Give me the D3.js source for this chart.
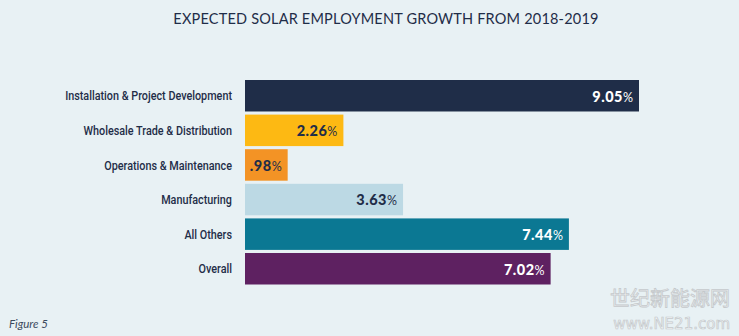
<!DOCTYPE html>
<html><head><meta charset="utf-8">
<script src="https://cdn.jsdelivr.net/npm/d3@7/dist/d3.min.js"></script>
<style>
html,body{margin:0;padding:0;background:#e8f1f4;}
svg{display:block;}
</style></head>
<body>
<script>
const categories = ["Installation & Project Development","Wholesale Trade & Distribution","Operations & Maintenance","Manufacturing","All Others","Overall"];
const values = [9.05, 2.26, 0.98, 3.63, 7.44, 7.02];
const valueLabels = ["9.05","2.26",".98","3.63","7.44","7.02"];
const barColors = ["#1f2d48","#fdb913","#f39325","#bcd9e4","#0b7893","#5e2161"];
const labelColors = ["#ffffff","#1f2d48","#1f2d48","#1f2d48","#ffffff","#ffffff"];

const W = 739, H = 336;
const svg = d3.select("body").append("svg").attr("width", W).attr("height", H);
svg.append("rect").attr("width", W).attr("height", H).attr("fill", "#e8f1f4");

svg.append("text").attr("x", 386).attr("y", 24).attr("text-anchor", "middle")
  .attr("font-family", "Lato, 'Open Sans', sans-serif").attr("font-size", 14.5)
  .attr("fill", "#1f2d48").attr("letter-spacing", 0.2)
  .text("EXPECTED SOLAR EMPLOYMENT GROWTH FROM 2018-2019");

const x = d3.scaleLinear().domain([0, 9.05]).range([245, 639]);
const y = d3.scaleBand().domain(categories).range([80, 284.5]).paddingInner(0.09).paddingOuter(0);

const data = categories.map((c, i) => ({c, v: values[i], l: valueLabels[i], col: barColors[i], lc: labelColors[i]}));

svg.selectAll("rect.bar").data(data).join("rect").attr("class", "bar")
  .attr("x", x(0)).attr("y", d => y(d.c))
  .attr("width", d => x(d.v) - x(0)).attr("height", y.bandwidth())
  .attr("fill", d => d.col);

const cats = svg.selectAll("g.cat").data(data).join("g").attr("class", "cat");
const catText = cats.append("text")
  .attr("x", 0).attr("y", 0).attr("dy", "0.35em")
  .attr("text-anchor", "end")
  .attr("font-family", "Roboto, 'Noto Sans', sans-serif").attr("font-weight", 500)
  .attr("font-size", 13.5).attr("fill", "#1f2d48")
  .text(d => d.c);
const w0 = catText.node().getComputedTextLength();
const sx = 167 / w0;
cats.attr("transform", d => `translate(232,${y(d.c) + y.bandwidth() / 2}) scale(${sx},1)`);

const vl = svg.selectAll("text.val").data(data).join("text").attr("class", "val")
  .attr("x", d => x(d.v) - 6).attr("y", d => y(d.c) + y.bandwidth() / 2).attr("dy", "0.36em")
  .attr("text-anchor", "end")
  .attr("font-family", "Lato, sans-serif").attr("fill", d => d.lc);
vl.append("tspan").attr("font-size", 14.5).attr("font-weight", 900).attr("letter-spacing", 0.5).text(d => d.l);
vl.append("tspan").attr("font-size", 12.5).attr("font-weight", 400).text("%");

svg.append("text").attr("x", 9).attr("y", 328)
  .attr("font-family", "Lato, sans-serif").attr("font-style", "italic")
  .attr("font-size", 11.5).attr("fill", "#3c4a5e").text("Figure 5");

svg.append("text").attr("x", 730).attr("y", 306).attr("text-anchor", "end")
  .attr("font-family", "'Noto Sans CJK SC', sans-serif").attr("font-size", 20)
  .attr("fill", "#f2f4f5").attr("stroke", "#c4c8cb").attr("stroke-width", 0.8)
  .text("世纪新能源网");
svg.append("text").attr("x", 730).attr("y", 329).attr("text-anchor", "end")
  .attr("font-family", "'DejaVu Sans', sans-serif").attr("font-size", 15)
  .attr("fill", "#f2f4f5").attr("stroke", "#c4c8cb").attr("stroke-width", 0.7)
  .text("www.NE21.com");
</script>
</body></html>
